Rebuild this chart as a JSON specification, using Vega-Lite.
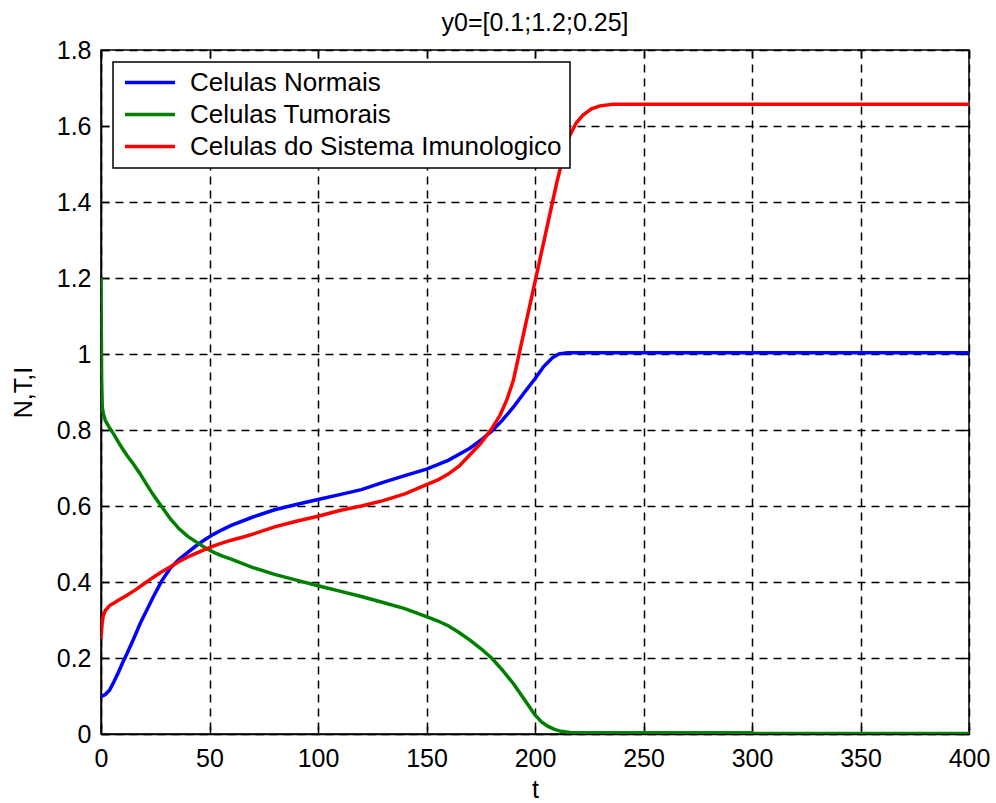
{
  "$schema": "https://vega.github.io/schema/vega-lite/v6.json",
  "width": 868,
  "height": 684,
  "autosize": {"type": "none"},
  "padding": {"left": 101, "top": 50, "right": 27, "bottom": 69},
  "background": "white",
  "title": {"text": "y0=[0.1;1.2;0.25]", "font": "Liberation Sans", "fontSize": 25, "fontWeight": "normal", "color": "#000", "offset": 2},
  "config": {
    "view": {"stroke": "#000", "strokeWidth": 1.5},
    "axis": {
      "labelFont": "Liberation Sans", "labelFontSize": 25, "labelColor": "#000", "labelFlush": false,
      "titleFont": "Liberation Sans", "titleFontSize": 25, "titleFontWeight": "normal", "titleColor": "#000",
      "gridColor": "#000", "gridDash": [8, 6], "gridWidth": 1.5, "gridOpacity": 1,
      "domainColor": "#000", "domainWidth": 1.5, "tickColor": "#000", "tickWidth": 1.5
    }
  },
  "data": {"values": [
    {"s":"N","t":0,"v":0.098},{"s":"N","t":2,"v":0.104},{"s":"N","t":4,"v":0.116},{"s":"N","t":6,"v":0.138},{"s":"N","t":8,"v":0.162},{"s":"N","t":10,"v":0.188},{"s":"N","t":12,"v":0.212},{"s":"N","t":15,"v":0.25},{"s":"N","t":18,"v":0.29},{"s":"N","t":21,"v":0.325},{"s":"N","t":24,"v":0.36},{"s":"N","t":28,"v":0.403},{"s":"N","t":32,"v":0.437},{"s":"N","t":36,"v":0.46},{"s":"N","t":40,"v":0.478},{"s":"N","t":44,"v":0.496},{"s":"N","t":48,"v":0.512},{"s":"N","t":52,"v":0.526},{"s":"N","t":56,"v":0.538},{"s":"N","t":60,"v":0.549},{"s":"N","t":70,"v":0.571},{"s":"N","t":80,"v":0.59},{"s":"N","t":90,"v":0.604},{"s":"N","t":100,"v":0.617},{"s":"N","t":110,"v":0.63},{"s":"N","t":120,"v":0.643},{"s":"N","t":130,"v":0.662},{"s":"N","t":140,"v":0.68},{"s":"N","t":150,"v":0.697},{"s":"N","t":160,"v":0.72},{"s":"N","t":170,"v":0.752},{"s":"N","t":175,"v":0.773},{"s":"N","t":180,"v":0.797},{"s":"N","t":185,"v":0.826},{"s":"N","t":190,"v":0.86},{"s":"N","t":195,"v":0.898},{"s":"N","t":200,"v":0.935},{"s":"N","t":204,"v":0.967},{"s":"N","t":208,"v":0.99},{"s":"N","t":211,"v":1.0},{"s":"N","t":215,"v":1.003},{"s":"N","t":250,"v":1.003},{"s":"N","t":300,"v":1.003},{"s":"N","t":350,"v":1.003},{"s":"N","t":400,"v":1.003},
    {"s":"T","t":0,"v":1.2},{"s":"T","t":0.3,"v":0.93},{"s":"T","t":0.6,"v":0.86},{"s":"T","t":1,"v":0.845},{"s":"T","t":2,"v":0.825},{"s":"T","t":4,"v":0.805},{"s":"T","t":6,"v":0.788},{"s":"T","t":8,"v":0.768},{"s":"T","t":10,"v":0.75},{"s":"T","t":12,"v":0.733},{"s":"T","t":15,"v":0.71},{"s":"T","t":18,"v":0.685},{"s":"T","t":21,"v":0.657},{"s":"T","t":24,"v":0.63},{"s":"T","t":28,"v":0.598},{"s":"T","t":32,"v":0.566},{"s":"T","t":36,"v":0.54},{"s":"T","t":40,"v":0.52},{"s":"T","t":44,"v":0.505},{"s":"T","t":48,"v":0.49},{"s":"T","t":52,"v":0.478},{"s":"T","t":56,"v":0.468},{"s":"T","t":60,"v":0.46},{"s":"T","t":70,"v":0.438},{"s":"T","t":80,"v":0.42},{"s":"T","t":90,"v":0.405},{"s":"T","t":100,"v":0.39},{"s":"T","t":110,"v":0.376},{"s":"T","t":120,"v":0.362},{"s":"T","t":130,"v":0.346},{"s":"T","t":140,"v":0.33},{"s":"T","t":150,"v":0.309},{"s":"T","t":155,"v":0.298},{"s":"T","t":160,"v":0.285},{"s":"T","t":165,"v":0.267},{"s":"T","t":170,"v":0.247},{"s":"T","t":175,"v":0.225},{"s":"T","t":180,"v":0.2},{"s":"T","t":185,"v":0.168},{"s":"T","t":190,"v":0.133},{"s":"T","t":194,"v":0.1},{"s":"T","t":197,"v":0.075},{"s":"T","t":200,"v":0.05},{"s":"T","t":203,"v":0.032},{"s":"T","t":206,"v":0.02},{"s":"T","t":209,"v":0.012},{"s":"T","t":212,"v":0.007},{"s":"T","t":216,"v":0.004},{"s":"T","t":230,"v":0.003},{"s":"T","t":300,"v":0.003},{"s":"T","t":301,"v":0.001},{"s":"T","t":400,"v":0.001},
    {"s":"I","t":0,"v":0.25},{"s":"I","t":0.5,"v":0.29},{"s":"I","t":1,"v":0.31},{"s":"I","t":2,"v":0.325},{"s":"I","t":4,"v":0.338},{"s":"I","t":6,"v":0.345},{"s":"I","t":8,"v":0.352},{"s":"I","t":12,"v":0.365},{"s":"I","t":16,"v":0.38},{"s":"I","t":20,"v":0.396},{"s":"I","t":24,"v":0.412},{"s":"I","t":28,"v":0.427},{"s":"I","t":32,"v":0.44},{"s":"I","t":36,"v":0.454},{"s":"I","t":40,"v":0.466},{"s":"I","t":44,"v":0.476},{"s":"I","t":48,"v":0.486},{"s":"I","t":52,"v":0.495},{"s":"I","t":56,"v":0.503},{"s":"I","t":60,"v":0.51},{"s":"I","t":66,"v":0.519},{"s":"I","t":70,"v":0.526},{"s":"I","t":80,"v":0.545},{"s":"I","t":90,"v":0.56},{"s":"I","t":100,"v":0.573},{"s":"I","t":110,"v":0.588},{"s":"I","t":120,"v":0.6},{"s":"I","t":130,"v":0.614},{"s":"I","t":140,"v":0.632},{"s":"I","t":150,"v":0.656},{"s":"I","t":155,"v":0.668},{"s":"I","t":160,"v":0.684},{"s":"I","t":165,"v":0.705},{"s":"I","t":170,"v":0.735},{"s":"I","t":175,"v":0.765},{"s":"I","t":180,"v":0.803},{"s":"I","t":184,"v":0.84},{"s":"I","t":187,"v":0.879},{"s":"I","t":190,"v":0.93},{"s":"I","t":195,"v":1.06},{"s":"I","t":200,"v":1.19},{"s":"I","t":205,"v":1.32},{"s":"I","t":210,"v":1.45},{"s":"I","t":213,"v":1.52},{"s":"I","t":216,"v":1.575},{"s":"I","t":219,"v":1.608},{"s":"I","t":222,"v":1.628},{"s":"I","t":226,"v":1.645},{"s":"I","t":230,"v":1.653},{"s":"I","t":236,"v":1.657},{"s":"I","t":250,"v":1.657},{"s":"I","t":300,"v":1.657},{"s":"I","t":400,"v":1.657}
  ]},
  "layer": [
    {
      "mark": {"type": "line", "strokeWidth": 3.5, "clip": true},
      "encoding": {
        "x": {"field": "t", "type": "quantitative", "scale": {"domain": [0, 400], "nice": false},
              "axis": {"orient": "bottom", "title": "t", "values": [0,50,100,150,200,250,300,350,400], "tickSize": -8, "labelPadding": 20, "titlePadding": 6, "grid": true}},
        "y": {"field": "v", "type": "quantitative", "scale": {"domain": [0, 1.8], "nice": false},
              "axis": {"orient": "left", "title": "N,T,I", "values": [0,0.2,0.4,0.6,0.8,1,1.2,1.4,1.6,1.8], "format": ".1~f", "tickSize": -8, "labelPadding": 18, "titlePadding": 20, "grid": true}},
        "color": {"field": "s", "type": "nominal",
                  "scale": {"domain": ["N", "T", "I"], "range": ["#0000FF", "#008000", "#FF0000"]},
                  "legend": {"orient": "none", "legendX": 12, "legendY": 12, "title": null,
                             "labelExpr": "datum.value == 'N' ? 'Celulas Normais' : datum.value == 'T' ? 'Celulas Tumorais' : 'Celulas do Sistema Imunologico'",
                             "symbolType": "stroke", "symbolSize": 2500, "symbolStrokeWidth": 3.5, "symbolOffset": 2,
                             "clipHeight": 25,
                             "labelFont": "Liberation Sans", "labelFontSize": 26, "labelColor": "#000", "labelLimit": 600,
                             "labelOffset": 13, "padding": 8, "rowPadding": 5,
                             "strokeColor": "#000", "fillColor": "white",
                             "encode": {"legend": {"update": {"strokeWidth": {"value": 1.5}}}}}}
      }
    },
    {
      "mark": {"type": "point", "opacity": 0},
      "encoding": {
        "x": {"field": "t", "type": "quantitative", "axis": {"orient": "top", "title": null, "labels": false, "grid": false, "domain": false, "values": [0,50,100,150,200,250,300,350,400], "tickSize": -8}},
        "y": {"field": "v", "type": "quantitative", "axis": {"orient": "right", "title": null, "labels": false, "grid": false, "domain": false, "values": [0,0.2,0.4,0.6,0.8,1,1.2,1.4,1.6,1.8], "tickSize": -8}}
      }
    }
  ],
  "resolve": {"axis": {"x": "independent", "y": "independent"}}
}
